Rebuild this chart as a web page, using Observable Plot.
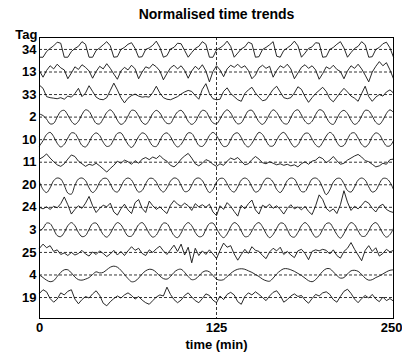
<!DOCTYPE html>
<html><head><meta charset="utf-8">
<script src="https://cdn.jsdelivr.net/npm/d3@7"></script>
<script src="https://cdn.jsdelivr.net/npm/@observablehq/plot@0.6"></script>
<style>body{margin:0;background:#fff}</style>
</head><body><div id="chart"></div>
<script>
const tags = ["34","13","33","2","10","11","20","24","3","25","4","19"];
const smoothTags = ["2","10","20","3","4"];
const timeStep = 2.5;
const xTicks = [0, 125, 250];
const titleText = "Normalised time trends";
const xLabel = "time (min)";
const yHeader = "Tag";

const series34 = [-1.5,-1.5,-0.4,0.2,0.7,1.4,1.2,-1.5,
 -1.5,-0.4,0.2,0.6,1.5,1.0,-1.5,
 -1.5,-0.2,0.3,0.9,1.5,0.7,-1.5,
 -1.4,0.0,0.4,1.0,1.3,0.2,-1.5,
 -1.4,0.0,0.3,0.8,1.6,0.4,-1.5,
 -1.2,0.1,0.4,1.2,1.1,-0.2,-1.5,
 -0.6,0.2,0.6,1.5,1.0,-1.5,-1.5,
 -0.1,0.3,0.8,1.6,0.6,-1.5,
 -0.7,0.1,0.5,1.4,1.1,-1.5,
 -1.4,0.0,0.4,0.9,1.5,-1.3,-1.5,
 -0.2,0.3,0.8,1.6,0.7,-1.5,
 -0.7,0.2,0.5,1.3,1.2,-1.5,
 -1.4,0.0,0.4,1.0,1.5,0.3,-1.5,
 -0.6,0.2,0.6,1.5,0.9,-1.5,
 -1.4,0.0,0.4,1.1,1.4,0.3,-1.5];
const series13 = [0.2,-1.0,0.3,1.2,0.6,1.5,0.8,0.4,-1.3,-0.2,
 1.0,0.5,1.4,0.9,0.2,-1.2,0.1,1.1,0.6,1.6,
 0.7,-0.4,-1.4,0.2,0.9,0.4,1.3,0.6,-1.3,0.0,
 1.0,0.7,1.5,1.0,0.2,-1.5,-0.3,0.8,1.3,0.6,
 1.2,0.3,-1.2,0.2,1.1,0.5,1.4,0.2,-1.9,0.1,
 1.2,0.4,-0.9,0.6,1.3,0.9,1.5,0.8,1.2,0.3,
 -1.3,-0.6,0.8,1.3,0.7,1.1,-1.0,0.3,1.2,0.8,
 1.5,0.6,-1.3,-0.2,0.9,1.4,0.7,1.2,0.4,-1.4,
 -0.3,1.0,0.6,1.3,0.5,0.1,-1.3,0.2,1.2,0.7,
 1.5,0.6,-0.6,-1.9,0.0,1.1,2.0,1.2,1.8,0.4,
 -1.3];
const series33 = [1.8,1.2,-0.4,-0.6,-0.7,-0.8,-0.6,-0.9,-0.3,-0.5,
 0.2,1.2,-0.4,0.3,1.7,0.6,-0.5,-0.9,-1.0,-0.6,
 0.8,2.2,0.9,-0.6,-1.6,-0.7,-0.2,0.1,-0.3,-0.5,
 -0.4,-0.5,0.4,1.6,0.3,-0.6,-0.9,-1.0,-0.7,-0.4,
 0.1,0.5,0.8,0.6,-0.2,-0.9,1.0,2.1,0.2,-0.8,
 -1.0,-0.9,0.6,1.3,0.2,-0.4,-1.0,-1.3,0.2,0.9,
 1.4,0.3,-0.5,-1.2,-1.0,0.0,1.0,1.6,0.5,-0.6,
 -0.8,-0.6,0.3,1.5,1.0,-0.4,-1.5,-0.6,0.2,0.8,
 1.4,0.6,-0.8,-1.4,-0.5,0.4,1.2,0.5,-0.3,-0.7,
 -1.3,0.2,1.6,-0.4,-1.3,-0.5,0.0,-0.3,0.5,0.9,
 0.3];
const series2 = [0.6,0.3,-0.4,-1.3,-1.2,0.0,1.1,1.3,0.4,-0.8,-1.4,-0.8,0.5,1.4,1.1,-0.1,-1.2,-1.3,-0.3,0.9,1.4,0.7,-0.6,-1.4,-1.0,0.2,1.3,1.2,0.2,-1.0,-1.4,-0.6,0.7,
 1.3,0.8,-0.4,-1.2,-1.2,0.0,1.0,1.3,0.5,-0.8,-1.4,-0.9,0.4,1.3,1.1,-0.1,-1.1,-1.3,-0.4,0.8,1.4,0.8,-0.5,-1.3,-1.1,0.1,1.2,1.3,0.3,-0.9,-1.4,-0.7,0.6,
 1.4,0.9,-0.3,-1.2,-1.3,-0.1,1.1,1.4,0.4,-0.8,-1.3,-0.8,0.5,1.4,1.2,0.0,-1.1,-1.4,-0.3,0.9,1.3,0.7,-0.6,-1.4,-1.0,0.2,1.3,1.2,0.2,-1.0,-1.4,-0.6,0.7,
 1.4,0.9];
const series10 = [-1.2,-0.2,1.0,1.4,0.6,-0.7,-1.4,-0.9,0.3,1.3,1.2,0.1,-1.1,-1.4,-0.5,0.8,1.3,0.8,-0.5,-1.3,-1.1,0.1,1.2,1.3,0.3,-0.9,-1.5,-0.7,0.6,1.3,1.0,-0.2,-1.2,
 -1.3,-0.2,1.0,1.3,0.6,-0.7,-1.4,-0.9,0.3,1.3,1.2,0.1,-1.1,-1.3,-0.5,0.8,1.4,0.8,-0.4,-1.3,-1.2,0.0,1.1,1.3,0.4,-0.9,-1.4,-0.7,0.5,1.4,1.0,-0.2,-1.2,
 -1.2,-0.1,1.0,1.4,0.6,-0.6,-1.4,-1.0,0.3,1.2,1.2,0.1,-1.0,-1.4,-0.5,0.7,1.4,0.9,-0.5,-1.3,-1.1,0.1,1.2,1.3,0.3,-0.9,-1.4,-0.8,0.6,1.3,1.0,-0.2,-1.2,
 -1.2,-0.2];
const series11 = [0.6,1.0,1.6,0.8,0.1,-0.5,-0.8,-0.3,0.6,1.4,
 1.1,0.2,-0.3,-0.8,-0.4,-0.6,-0.2,-0.7,-1.3,-1.9,
 -1.2,-0.6,0.2,-0.2,0.4,0.1,-0.4,0.3,-0.2,0.6,
 0.9,0.5,1.0,0.7,1.3,0.6,0.2,-0.6,-0.9,-0.3,
 0.6,1.2,1.7,0.8,-0.3,-0.7,-0.2,0.5,0.2,-0.4,
 -0.8,-0.3,-0.6,0.2,0.8,0.5,0.9,0.2,-0.5,-0.3,
 0.5,1.1,0.6,-0.1,-0.3,0.1,-0.2,-0.5,-0.3,-0.6,
 -0.4,-0.7,-0.5,-0.9,-0.3,0.1,-0.4,0.2,0.4,1.0,
 0.7,-0.1,0.4,1.1,0.3,-0.4,-0.2,0.4,0.8,1.2,
 1.5,1.0,0.3,0.1,-0.4,-0.9,-0.7,-0.2,-0.4,0.5,
 0.6];
const series20 = [0.5,-0.9,-1.5,-0.6,0.8,1.3,1.1,-0.1,-1.6,-1.8,-0.1,1.1,1.3,0.8,-0.6,-1.5,-0.9,0.5,1.2,1.2,0.2,-1.1,-1.4,-0.4,0.9,1.3,0.9,-0.4,-1.4,-1.1,0.2,1.2,1.2,
 0.5,-0.8,-1.4,-0.6,0.7,1.3,1.1,-0.1,-1.3,-1.2,-0.1,1.1,1.3,0.8,-0.5,-1.5,-0.9,0.5,1.2,1.2,0.2,-1.0,-1.4,-0.4,0.9,1.3,0.9,-0.4,-1.4,-1.1,0.2,1.2,1.2,
 0.5,-0.9,-1.5,-0.6,0.8,1.3,1.1,-0.1,-1.3,-1.3,-0.1,1.1,1.3,0.8,-0.6,-1.9,-1.0,0.5,1.2,1.2,0.2,-1.1,-1.4,-0.4,0.9,1.3,0.9,-0.4,-1.4,-1.1,0.2,1.2,1.2,
 0.5,-0.9];
const series24 = [0.0,-0.3,0.1,-0.4,0.2,-0.1,0.7,2.0,0.5,-1.3,
 -0.4,0.3,-0.2,0.8,2.1,0.3,-1.0,-0.2,0.4,0.1,
 0.8,-0.9,-1.5,-0.3,0.6,-0.5,-1.2,0.9,1.5,-0.2,
 -1.0,1.2,0.3,-0.4,0.1,-0.6,-1.2,0.4,1.3,0.6,
 0.2,0.8,0.3,-0.6,0.7,0.1,0.5,0.0,0.6,-0.9,
 -1.6,0.3,-0.4,0.9,0.2,-0.8,-1.7,0.4,-0.3,0.7,
 1.4,-0.5,-1.3,0.4,0.0,0.6,-0.2,0.3,-0.4,-1.3,
 -0.2,0.5,-0.3,0.1,-0.5,0.2,-0.8,-1.4,0.3,2.4,
 1.5,-0.2,-0.8,-0.3,-1.2,0.5,3.2,1.0,-0.6,0.2,
 -0.3,0.4,1.2,0.8,-0.2,-0.9,0.2,0.6,-0.4,-0.8,
 -1.0];
const series3 = [-0.2,0.3,1.3,1.2,0.1,-1.1,-1.3,-0.5,0.8,1.4,0.8,-0.5,-1.3,-1.1,0.1,1.2,1.3,0.3,-0.9,-1.4,-0.7,0.6,1.4,1.0,-0.2,-1.2,-1.2,-0.2,1.0,1.4,0.6,-0.7,-1.4,
 -1.0,0.3,1.3,1.2,0.1,-1.1,-1.5,-0.6,0.8,1.4,0.8,-0.5,-1.3,-1.2,0.1,1.2,1.3,0.3,-0.9,-1.5,-0.8,0.6,1.4,1.0,-0.2,-1.3,-1.2,-0.2,1.0,1.4,0.6,-0.7,-1.5,
 -0.9,0.3,1.3,1.2,0.1,-1.2,-1.4,-0.5,0.8,1.4,0.8,-0.5,-1.4,-1.1,0.1,1.2,1.3,0.3,-0.9,-1.6,-0.7,0.6,1.4,1.0,-0.2,-1.2,-1.2,-0.2,1.0,1.4,0.6,-0.7,-1.4,
 -0.9,0.3];
const series25 = [0.8,1.6,0.9,1.3,0.2,0.5,-0.4,-0.1,-0.6,0.0,
 -0.5,-0.2,0.4,-0.3,-0.7,0.1,-0.4,0.3,-0.2,-0.8,
 -0.3,0.4,-0.5,0.2,-0.6,0.3,1.1,0.4,0.8,-0.2,
 -0.6,0.5,0.0,0.7,1.2,0.3,-0.4,0.5,1.4,0.2,
 1.6,-0.5,1.0,-2.0,0.8,-0.6,0.3,-0.4,0.5,-0.3,
 -1.2,0.4,1.8,1.0,1.3,-0.3,-1.5,-0.4,0.6,-0.2,
 1.1,0.4,0.2,-0.6,-1.2,0.1,0.8,0.3,1.0,-0.4,
 0.2,-0.5,-1.0,0.3,0.6,-0.2,-1.4,0.2,0.5,0.3,
 0.6,0.4,-0.3,0.5,-0.6,-1.1,0.2,0.8,1.9,0.6,
 -0.5,-1.6,0.4,1.3,0.2,0.9,-0.7,-0.2,0.6,0.1,
 0.4];
const series4 = [0.0,-0.5,-1.0,-1.3,-1.1,-0.3,0.5,1.0,1.0,0.4,
 -0.4,-0.9,-1.0,-0.8,-0.5,0.1,0.6,0.4,0.5,1.0,
 1.5,1.7,1.5,0.9,0.1,-0.7,-1.3,-1.2,-0.6,0.2,
 0.8,1.1,1.0,0.5,-0.2,-0.7,-0.8,-0.3,0.5,1.0,
 1.1,0.5,-0.3,-0.9,-0.8,-0.2,0.5,0.8,0.6,-0.1,
 -0.8,-1.0,-0.9,-0.3,0.3,0.8,1.1,1.2,1.1,0.8,
 0.5,0.1,-0.3,-0.8,-1.1,-1.2,-0.6,0.2,0.8,1.2,
 1.2,1.0,0.7,0.3,-0.1,-0.6,-1.1,-1.3,-0.9,-0.1,
 0.7,1.2,1.2,0.6,-0.1,-0.6,-0.5,0.2,0.8,0.9,
 0.7,0.1,-0.6,-1.0,-0.9,-0.5,-0.2,0.2,0.6,0.9,
 1.0];
const series19 = [0.8,1.5,1.1,-0.2,-0.9,-0.3,0.9,0.5,1.2,1.5,
 -0.3,-1.2,-0.4,0.2,-0.1,0.7,1.3,0.4,-1.1,-1.6,
 -0.8,-0.2,0.3,-0.1,0.5,0.9,0.4,-0.3,0.2,-0.5,
 -1.0,-1.3,-0.6,0.1,0.5,0.3,2.0,0.6,-0.4,-1.0,
 -0.5,0.4,0.9,0.1,-0.6,-1.0,-0.2,0.7,0.4,-0.5,
 -1.0,0.3,-0.4,0.6,1.0,0.5,-0.8,-1.3,0.2,0.9,
 0.5,1.1,0.6,0.0,-0.6,0.3,1.0,1.3,0.4,-0.9,
 -0.4,0.3,0.7,0.2,0.4,-0.5,-1.1,-0.2,0.6,0.3,
 0.9,1.1,0.6,-0.4,-0.9,0.2,1.2,1.6,0.8,-0.3,
 -1.0,-0.2,0.4,-0.1,0.6,-0.3,-0.8,0.1,-0.6,-0.2,
 -0.7];

const seriesByTag = {"34":series34,"13":series13,"33":series33,"2":series2,"10":series10,"11":series11,"20":series20,"24":series24,"3":series3,"25":series25,"4":series4,"19":series19};

const amp = 0.23;
const pos = new Map(tags.map((t, i) => [t, tags.length - i]));
const tagAt = new Map(tags.map((t, i) => [tags.length - i, t]));
const smooth = new Set(smoothTags);
const rows = tags.flatMap(tag => seriesByTag[tag].map((v, i) => ({tag, t: i * timeStep, y: pos.get(tag) + v * amp})));
const font = "'Liberation Sans', Arial, Helvetica, sans-serif";
const xMax = xTicks[xTicks.length - 1];

const plot = Plot.plot({
  width: 402, height: 352,
  marginLeft: 39, marginRight: 9, marginTop: 37, marginBottom: 34,
  x: {domain: [0, 250]},
  y: {domain: [0.07, 12.53]},
  style: {fontFamily: font, fontSize: "13px", fontWeight: "bold", color: "#000", background: "#fff", overflow: "visible"},
  marks: [
    Plot.ruleY(tags.map(t => pos.get(t)), {stroke: "#000", strokeWidth: 0.8, strokeDasharray: "3,2"}),
    Plot.ruleX([125], {stroke: "#000", strokeWidth: 0.8, strokeDasharray: "3,2"}),
    Plot.line(rows.filter(d => !smooth.has(d.tag)), {x: "t", y: "y", z: "tag", stroke: "#111", strokeWidth: 0.9}),
    Plot.line(rows.filter(d => smooth.has(d.tag)), {x: "t", y: "y", z: "tag", stroke: "#111", strokeWidth: 0.9, curve: "catmull-rom"}),
    Plot.frame({stroke: "#000", strokeWidth: 1}),
    Plot.axisY(tags.map(t => pos.get(t)), {tickFormat: p => tagAt.get(p), tickSize: 0, tickPadding: 3, fontSize: 13, fontWeight: "bold", label: null}),
    Plot.axisX(xTicks.filter(v => v !== xMax), {tickSize: 0, tickPadding: 4, fontSize: 13, fontWeight: "bold", label: xLabel, labelAnchor: "center", labelArrow: "none", labelOffset: 30}),
    Plot.axisX([xMax], {tickSize: 0, tickPadding: 4, fontSize: 13, fontWeight: "bold", textAnchor: "end", dx: 9, label: null}),
    Plot.text([titleText], {frameAnchor: "top", dy: -23, lineAnchor: "middle", fontSize: 14, fontWeight: "bold"}),
    Plot.text([yHeader], {frameAnchor: "top-left", dx: -2, dy: -3, lineAnchor: "middle", textAnchor: "end", fontSize: 13, fontWeight: "bold"})
  ]
});
document.getElementById("chart").appendChild(plot);
</script>
</body></html>
